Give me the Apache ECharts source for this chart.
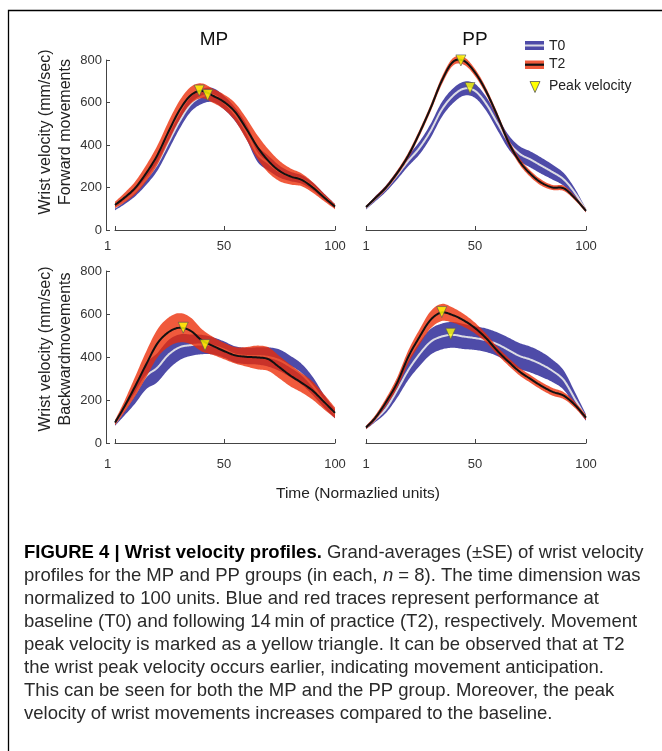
<!DOCTYPE html>
<html>
<head>
<meta charset="utf-8">
<script src="https://cdn.jsdelivr.net/npm/echarts@6/dist/echarts.min.js"></script>
<style>
html,body{margin:0;padding:0;background:#fff;}
#c{width:662px;height:751px;}
</style>
</head>
<body>
<div id="c"></div>
<script>
// ---- data ----
const timePts = [1,5,10,15,20,25,30,35,40,45,50,55,60,65,70,75,80,85,90,95,100];
const xTicks = [1,50,100];

// MP, forward
const mpFwdT0   = [105,135,180,240,310,410,510,590,628,635,600,545,465,360,315,275,252,238,205,158,112];
const mpFwdT0SE = [12,16,22,28,32,35,35,35,35,33,32,32,35,38,35,28,22,20,18,14,10];
const mpFwdT2   = [118,150,197,267,351,461,563,633,655,632,603,556,478,392,325,278,252,236,200,154,110];
const mpFwdT2SE = [15,22,30,38,45,48,45,40,35,33,35,42,50,55,55,48,38,30,25,18,12];
const mpFwdPeakT0 = [42.7, 635];
const mpFwdPeakT2 = [38.9, 656];

// PP, forward
const ppFwdT0   = [105,145,195,258,325,385,465,565,630,665,655,595,505,416,360,332,302,272,238,175,92];
const ppFwdT0SE = [8,12,15,20,25,30,33,35,35,33,33,33,33,33,35,38,38,35,30,20,8];
const ppFwdT2   = [108,148,200,268,350,455,572,700,790,796,742,654,540,416,324,264,222,200,196,150,90];
const ppFwdT2SE = [6,8,10,12,14,15,16,18,18,18,17,16,15,15,15,15,14,12,12,10,8];
const ppFwdPeakT0 = [47.8, 668];
const ppFwdPeakT2 = [43.7, 798];

// MP, backward
const mpBwdT0   = [90,150,228,310,350,410,445,455,458,452,435,412,405,405,400,385,355,320,265,195,135];
const mpBwdT0SE = [10,25,45,60,68,68,60,50,45,40,38,38,38,40,45,50,50,48,42,30,20];
const mpBwdT2   = [95,165,262,365,462,515,536,522,478,452,428,408,401,398,390,352,313,280,243,192,140];
const mpBwdT2SE = [12,25,45,60,65,68,68,62,52,42,38,38,45,55,55,52,50,45,42,35,25];
const mpBwdPeakT0 = [41.5, 455];
const mpBwdPeakT2 = [31.7, 536];

// PP, backward
const ppBwdT0   = [72,108,160,245,338,412,470,495,503,495,488,478,460,433,405,388,365,335,292,205,118];
const ppBwdT0SE = [8,12,20,35,45,55,60,60,60,58,55,55,55,58,60,60,58,52,45,32,15];
const ppBwdT2   = [72,115,190,280,400,492,572,607,595,570,535,488,430,379,333,298,265,238,220,177,118];
const ppBwdT2SE = [8,12,18,25,30,35,40,40,35,30,25,20,18,18,18,18,18,18,16,14,12];
const ppBwdPeakT0 = [39.1, 508];
const ppBwdPeakT2 = [35.1, 609];

const panelTitles = ['MP','PP'];
const legendLabels = ['T0','T2','Peak velocity'];
const captionLines = [
  '{b|FIGURE 4 | Wrist velocity profiles.} Grand-averages (\u00B1SE) of wrist velocity',
  'profiles for the MP and PP groups (in each, {i|n} = 8). The time dimension was',
  'normalized to 100 units. Blue and red traces represent performance at',
  'baseline (T0) and following 14\u2009min of practice (T2), respectively. Movement',
  'peak velocity is marked as a yellow triangle. It can be observed that at T2',
  'the wrist peak velocity occurs earlier, indicating movement anticipation.',
  'This can be seen for both the MP and the PP group. Moreover, the peak',
  'velocity of wrist movements increases compared to the baseline.'
];

// ---- chart ----
const FONT = 'Liberation Sans, Arial, Helvetica, sans-serif';
const BLUE = 'rgb(78,75,168)';
const RED = 'rgba(236,44,5,0.78)';
const WHITE_LINE = '#dcdce4';

const panels = [
  {t0:mpFwdT0, t0se:mpFwdT0SE, t2:mpFwdT2, t2se:mpFwdT2SE, p0:mpFwdPeakT0, p2:mpFwdPeakT2},
  {t0:ppFwdT0, t0se:ppFwdT0SE, t2:ppFwdT2, t2se:ppFwdT2SE, p0:ppFwdPeakT0, p2:ppFwdPeakT2},
  {t0:mpBwdT0, t0se:mpBwdT0SE, t2:mpBwdT2, t2se:mpBwdT2SE, p0:mpBwdPeakT0, p2:mpBwdPeakT2},
  {t0:ppBwdT0, t0se:ppBwdT0SE, t2:ppBwdT2, t2se:ppBwdT2SE, p0:ppBwdPeakT0, p2:ppBwdPeakT2}
];

const grids = [
  {left:115, top:60, width:220, height:170},
  {left:366, top:60, width:220, height:170},
  {left:115, top:271, width:220, height:172},
  {left:366, top:271, width:220, height:172}
];

const xAxes = grids.map((g,i)=>({
  type:'value', gridIndex:i, min:1, max:100,
  offset: 7,
  axisLine:{show:true, lineStyle:{color:'#444', width:1}},
  axisTick:{show:true, inside:true, length:4, lineStyle:{color:'#444'}, customValues:xTicks},
  axisLabel:{
    show:true, customValues:xTicks, fontSize:13, color:'#333', fontFamily:FONT, margin: i<2 ? 3 : 8,
    formatter: (v)=> (i%2===0 && v===1) ? '{s|1}' : String(v),
    rich:{s:{fontSize:13, color:'#333', fontFamily:FONT, padding:[0,15,0,0]}}
  },
  splitLine:{show:false}
}));

const yAxes = grids.map((g,i)=>({
  type:'value', gridIndex:i, min:0, max:800, interval:200,
  show: i%2===0,
  offset:9,
  axisLine:{show:true, lineStyle:{color:'#444', width:1}},
  axisTick:{show:true, inside:true, length:4, lineStyle:{color:'#444'}},
  axisLabel:{fontSize:13, color:'#333', fontFamily:FONT, margin:4},
  splitLine:{show:false}
}));

// Catmull-Rom smoothing of pixel points (rendering only)
function spline(pts){
  const out = [];
  const n = pts.length;
  for(let i=0;i<n-1;i++){
    const p0 = pts[Math.max(0,i-1)], p1 = pts[i], p2 = pts[i+1], p3 = pts[Math.min(n-1,i+2)];
    const steps = 10;
    for(let s=0;s<steps;s++){
      const t = s/steps, t2 = t*t, t3 = t2*t;
      const f = (a,b,c,d)=>0.5*((2*b)+(-a+c)*t+(2*a-5*b+4*c-d)*t2+(-a+3*b-3*c+d)*t3);
      out.push([f(p0[0],p1[0],p2[0],p3[0]), f(p0[1],p1[1],p2[1],p3[1])]);
    }
  }
  out.push(pts[n-1]);
  return out;
}

function bandSeries(i, mean, se, color){
  return {
    type:'custom', xAxisIndex:i, yAxisIndex:i, silent:true, animation:false,
    data:[[timePts[0], mean[0]]],
    encode:{x:0, y:1},
    renderItem:(params, api)=>{
      const up = timePts.map((x,k)=>api.coord([x, mean[k]+se[k]]));
      const lo = timePts.map((x,k)=>api.coord([x, mean[k]-se[k]]));
      const pts = spline(up).concat(spline(lo).reverse());
      return {type:'polygon', shape:{points:pts}, style:{fill:color, stroke:null}};
    }
  };
}
function meanSeries(i, mean, color, width){
  return {
    type:'custom', xAxisIndex:i, yAxisIndex:i, silent:true, animation:false,
    data:[[timePts[0], mean[0]]],
    encode:{x:0, y:1},
    renderItem:(params, api)=>{
      const mid = timePts.map((x,k)=>api.coord([x, mean[k]]));
      return {type:'polyline', shape:{points:spline(mid)}, style:{stroke:color, lineWidth:width, fill:null, lineJoin:'round'}};
    }
  };
}

const series = [];
panels.forEach((p,i)=>{
  series.push(bandSeries(i, p.t0, p.t0se, BLUE));
  series.push(meanSeries(i, p.t0, WHITE_LINE, 2));
  series.push(bandSeries(i, p.t2, p.t2se, RED));
  series.push(meanSeries(i, p.t2, '#111', 2));
  series.push({
    type:'scatter', xAxisIndex:i, yAxisIndex:i, silent:true, animation:false,
    symbol:'triangle', symbolRotate:180, symbolSize:[10,11],
    itemStyle:{color:'#ffff00', borderColor:'#555', borderWidth:0.8},
    data:[p.p0, p.p2], z:5
  });
});

const graphic = [];
// frame
graphic.push({type:'rect', shape:{x:8.5, y:10.5, width:700, height:800}, style:{fill:'none', stroke:'#000', lineWidth:1.3}, silent:true});
// titles
graphic.push({type:'text', x:214, y:40, style:{text:panelTitles[0], font:'19px '+FONT, fill:'#111', textAlign:'center', textVerticalAlign:'middle'}});
graphic.push({type:'text', x:475, y:40, style:{text:panelTitles[1], font:'19px '+FONT, fill:'#111', textAlign:'center', textVerticalAlign:'middle'}});
// y-axis names
const yNames = [
  ['Wrist velocity (mm/sec)', 'Forward movements', 132],
  ['Wrist velocity (mm/sec)', 'Backwardmovements', 349]
];
yNames.forEach(n=>{
  graphic.push({type:'text', x:46, y:n[2], rotation:Math.PI/2, style:{text:n[0], font:'16px '+FONT, fill:'#222', textAlign:'center', textVerticalAlign:'middle'}});
  graphic.push({type:'text', x:66, y:n[2], rotation:Math.PI/2, style:{text:n[1], font:'16px '+FONT, fill:'#222', textAlign:'center', textVerticalAlign:'middle'}});
});
// x-axis name
graphic.push({type:'text', x:358, y:494, style:{text:'Time (Normazlied units)', font:'15.5px '+FONT, fill:'#222', textAlign:'center', textVerticalAlign:'middle'}});
// legend
graphic.push({type:'rect', shape:{x:525, y:41, width:19, height:9}, style:{fill:BLUE}});
graphic.push({type:'line', shape:{x1:525, y1:45.5, x2:544, y2:45.5}, style:{stroke:WHITE_LINE, lineWidth:2}});
graphic.push({type:'rect', shape:{x:525, y:60.5, width:19, height:8.5}, style:{fill:RED}});
graphic.push({type:'line', shape:{x1:525, y1:64.7, x2:544, y2:64.7}, style:{stroke:'#111', lineWidth:2.2}});
graphic.push({type:'polygon', shape:{points:[[530,81.5],[540,81.5],[535,92.5]]}, style:{fill:'#ffff00', stroke:'#555', lineWidth:0.8}});
[[legendLabels[0],46],[legendLabels[1],64.5],[legendLabels[2],86.5]].forEach(l=>{
  graphic.push({type:'text', x:549, y:l[1], style:{text:l[0], font:'14px '+FONT, fill:'#222', textVerticalAlign:'middle'}});
});
// caption
const CAPFONT = 'Liberation Sans, Arial, sans-serif';
const CAPSIZE = 18.5;
captionLines.forEach((line,k)=>{
  graphic.push({type:'text', x:24, y:553 + k*23, style:{
    text:line, fontFamily:CAPFONT, fontSize:CAPSIZE, fill:'#2a2a2a', textVerticalAlign:'middle',
    rich:{
      b:{fontFamily:CAPFONT, fontSize:CAPSIZE, fontWeight:'bold', fill:'#000'},
      i:{fontFamily:CAPFONT, fontSize:CAPSIZE, fontStyle:'italic', fill:'#2a2a2a'}
    }
  }});
});

const chart = echarts.init(document.getElementById('c'), null, {renderer:'canvas'});
chart.setOption({
  animation:false,
  backgroundColor:'#fff',
  grid: grids,
  xAxis: xAxes,
  yAxis: yAxes,
  series: series,
  graphic: graphic
});
</script>
</body>
</html>
